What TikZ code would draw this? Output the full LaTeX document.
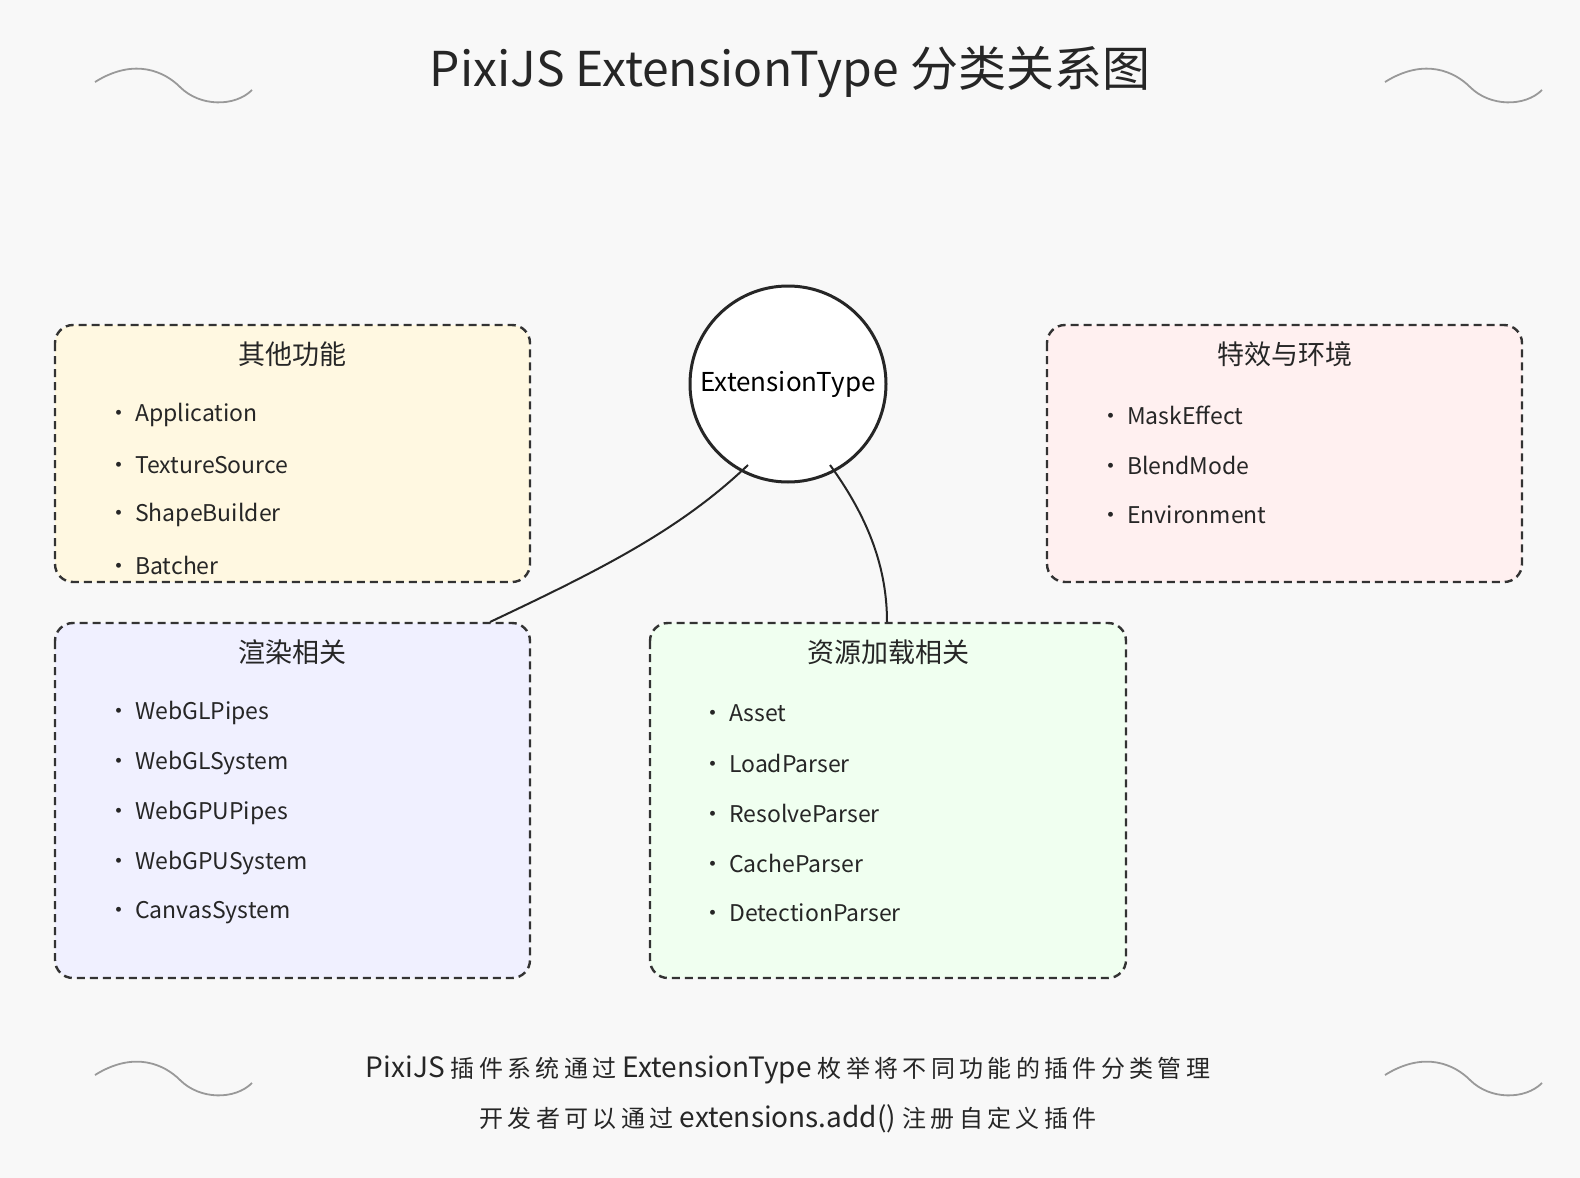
\documentclass[tikz,border=0pt]{standalone}
\usepackage{fontspec}
\setmainfont{Noto Sans CJK SC}
\begin{document}
\begin{tikzpicture}[x=0.5pt,y=-0.5pt,
 box/.style={draw=black!80,line width=1.2pt,dash pattern=on 4pt off 2.5pt,rounded corners=9pt},
 head/.style={font=\fontsize{13.5}{15}\selectfont,text=black!85},
 item/.style={anchor=west,font=\fontsize{11.5}{14}\selectfont,text=black!85},
 squig/.style={draw=gray!80,line width=0.9pt},
 conn/.style={draw=black!85,line width=1pt}]
\definecolor{bg}{HTML}{F8F8F8}
\fill[bg] (0,0) rectangle (1580,1178);
\useasboundingbox (0,0) rectangle (1580,1178);
\node[font=\fontsize{24}{28}\selectfont,text=black!85] (title) at (790,72) {PixiJS ExtensionType 分类关系图};
\foreach \x/\y in {95/82,1385/82,95/1075,1385/1075}{
 \draw[squig] (\x,\y) .. controls (\x+40,\y-25) and (\x+70,\y-10) .. (\x+85,\y+5) .. controls (\x+105,\y+25) and (\x+140,\y+25) .. (\x+157,\y+8);}
% boxes
\draw[box,fill={rgb,255:red,255;green,248;blue,225}] (55,325) rectangle (530,582);
\draw[box,fill={rgb,255:red,255;green,240;blue,240}] (1047,325) rectangle (1522,582);
\draw[box,fill={rgb,255:red,240;green,240;blue,255}] (55,623) rectangle (530,978);
\draw[box,fill={rgb,255:red,240;green,255;blue,240}] (650,623) rectangle (1126,978);
\node[head] (h1) at (292,354) {其他功能};
\node[head] (h2) at (1285,354) {特效与环境};
\node[head] (h3) at (292,652) {渲染相关};
\node[head] (h4) at (888,652) {资源加载相关};
\foreach \t [count=\i] in {Application,TextureSource,ShapeBuilder,Batcher}
 \node[item] (a\i) at (100,{415+50*(\i-1)}) {· \t};
\foreach \t [count=\i] in {MaskEffect,BlendMode,Environment}
 \node[item] (b\i) at (1092,{415+50*(\i-1)}) {· \t};
\foreach \t [count=\i] in {WebGLPipes,WebGLSystem,WebGPUPipes,WebGPUSystem,CanvasSystem}
 \node[item] (c\i) at (100,{713+50*(\i-1)}) {· \t};
\foreach \t [count=\i] in {Asset,LoadParser,ResolveParser,CacheParser,DetectionParser}
 \node[item] (d\i) at (694,{713+50*(\i-1)}) {· \t};
% circle
\node[circle,draw=black!85,line width=1.5pt,fill=white,minimum size=98pt,inner sep=0pt,font=\fontsize{13}{15}\selectfont] (ext) at (788,384) {ExtensionType};
\coordinate (e1) at (748,465);
\coordinate (e2) at (830,465);
\coordinate (t1) at (490,622);
\coordinate (t2) at (887,622);
\draw[conn] (e1) .. controls (680,530) and (600,570) .. (t1);
\draw[conn] (e2) .. controls (870,520) and (887,570) .. (t2);
\node[font=\fontsize{14}{16}\selectfont,text=black!85] (f1) at (788,1070) {PixiJS {\fontsize{12}{14}\selectfont\addfontfeature{LetterSpace=18} 插件系统通过} ExtensionType {\fontsize{12}{14}\selectfont\addfontfeature{LetterSpace=18} 枚举将不同功能的插件分类管理}};
\node[font=\fontsize{14}{16}\selectfont,text=black!85] (f2) at (788,1119) {{\fontsize{12}{14}\selectfont\addfontfeature{LetterSpace=18} 开发者可以通过} extensions.add() {\fontsize{12}{14}\selectfont\addfontfeature{LetterSpace=18} 注册自定义插件}};
\end{tikzpicture}
\end{document}
